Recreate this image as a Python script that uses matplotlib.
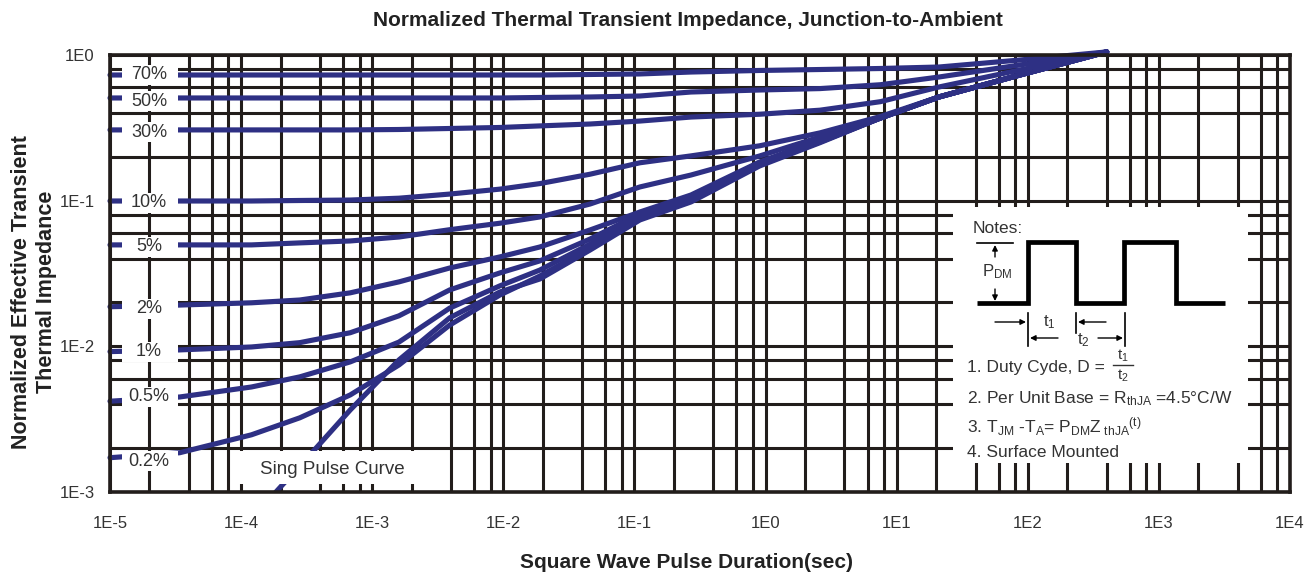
import matplotlib
matplotlib.use("Agg")
import matplotlib.pyplot as plt
from matplotlib.transforms import blended_transform_factory
from matplotlib.patches import Rectangle, FancyArrowPatch
from matplotlib.ticker import FixedLocator, NullFormatter

plt.rcParams['font.family'] = ['Liberation Sans', 'DejaVu Sans']
plt.rcParams['mathtext.fontset'] = 'custom'
plt.rcParams['mathtext.rm'] = 'Liberation Sans'
plt.rcParams['mathtext.it'] = 'Liberation Sans:italic'
plt.rcParams['mathtext.bf'] = 'Liberation Sans:bold'

# ---------------- data ----------------
pulse_duration = [1e-5, 3.4e-5, 1.2e-4, 2.8e-4, 6.8e-4, 1.6e-3, 3.9e-3, 9.4e-3,
                  1.9e-2, 4.6e-2, 0.11, 0.27, 0.9, 2.6, 7.5, 21, 87, 400]
z_70 = [0.729, 0.729, 0.729, 0.729, 0.729, 0.729, 0.729, 0.729, 0.729,
        0.735, 0.741, 0.764, 0.783, 0.795, 0.808, 0.827, 0.924, 1.05]
z_50 = [0.507, 0.507, 0.507, 0.507, 0.507, 0.507, 0.507, 0.507, 0.511,
        0.515, 0.523, 0.557, 0.575, 0.588, 0.625, 0.706, 0.854, 1.05]
z_30 = [0.306, 0.306, 0.306, 0.306, 0.306, 0.308, 0.313, 0.318, 0.326,
        0.336, 0.352, 0.375, 0.392, 0.418, 0.478, 0.603, 0.789, 1.05]
z_10 = [0.0995, 0.0995, 0.0995, 0.1003, 0.101, 0.104, 0.111, 0.120, 0.131,
        0.152, 0.182, 0.203, 0.238, 0.292, 0.378, 0.515, 0.729, 1.05]
z_5 = [0.0497, 0.0497, 0.0497, 0.0513, 0.0529, 0.0563, 0.0632, 0.0700, 0.0773,
       0.0949, 0.1242, 0.150, 0.2026, 0.2736, 0.369, 0.515, 0.729, 1.05]
z_2 = [0.0187, 0.0192, 0.0199, 0.0208, 0.0233, 0.0277, 0.0345, 0.0411, 0.0481,
       0.0630, 0.0836, 0.1094, 0.1843, 0.261, 0.369, 0.515, 0.729, 1.05]
z_1 = [0.0092, 0.00945, 0.0099, 0.0106, 0.0124, 0.0162, 0.0244, 0.0319, 0.0386,
       0.0546, 0.0810, 0.1060, 0.1814, 0.257, 0.369, 0.515, 0.729, 1.05]
z_05 = [0.0042, 0.00449, 0.00526, 0.00617, 0.00782, 0.0107, 0.0183, 0.0260, 0.0334,
        0.0504, 0.0785, 0.1043, 0.1786, 0.253, 0.369, 0.515, 0.729, 1.05]
z_02 = [0.00172, 0.00186, 0.00247, 0.00323, 0.00464, 0.00745, 0.0140, 0.0225, 0.0304,
        0.0474, 0.0761, 0.1011, 0.1758, 0.253, 0.369, 0.515, 0.729, 1.05]
single_duration = [1.75e-4, 3.8e-4, 6.8e-4, 1.6e-3, 3.9e-3, 9.4e-3, 1.9e-2, 4.6e-2,
                   0.11, 0.27, 0.9, 2.6, 7.5, 21, 87, 400]
z_single = [0.00095, 0.00204, 0.00366, 0.00807, 0.0157, 0.0236, 0.0290, 0.0459,
            0.0737, 0.098, 0.173, 0.250, 0.369, 0.515, 0.729, 1.05]

duty_labels = ["70%", "50%", "30%", "10%", "5%", "2%", "1%", "0.5%", "0.2%"]
duty_curves = [z_70, z_50, z_30, z_10, z_5, z_2, z_1, z_05, z_02]
label_levels = [0.73, 0.483, 0.296, 0.0964, 0.0481, 0.0181, 0.00916, 0.00449, 0.00163]

x_decades = [1e-5, 1e-4, 1e-3, 1e-2, 1e-1, 1e0, 1e1, 1e2, 1e3, 1e4]
x_tick_labels = ["1E-5", "1E-4", "1E-3", "1E-2", "1E-1", "1E0", "1E1", "1E2", "1E3", "1E4"]
y_decades = [1e-3, 1e-2, 1e-1, 1e0]
y_tick_labels = ["1E-3", "1E-2", "1E-1", "1E0"]
grid_subs = [2, 4, 6, 8]

title = "Normalized Thermal Transient Impedance, Junction-to-Ambient"
x_title = "Square Wave Pulse Duration(sec)"
y_title = "Normalized Effective Transient\nThermal Impedance"

# ---------------- figure ----------------
W, H = 1308, 574
fig = plt.figure(figsize=(W / 100, H / 100), dpi=100)
fig.patch.set_facecolor("white")

def fx(px):
    return px / W

def fy(py):
    return 1 - py / H

ax_l, ax_r, ax_t, ax_b = 110, 1290, 55, 492
ax = fig.add_axes([fx(ax_l), fy(ax_b), fx(ax_r - ax_l), (ax_b - ax_t) / H])
ax.set_xscale("log")
ax.set_yscale("log")
ax.set_xlim(x_decades[0], x_decades[-1])
ax.set_ylim(y_decades[0], y_decades[-1])

GRID = "#221d1b"
CURVE = "#2e3084"
TXT = "#333333"

ax.set_xticks(x_decades)
ax.set_xticklabels(x_tick_labels)
ax.set_yticks(y_decades)
ax.set_yticklabels(y_tick_labels)
x_minor = [s * d for d in x_decades[:-1] for s in grid_subs]
y_minor = [s * d for d in y_decades[:-1] for s in grid_subs]
ax.xaxis.set_minor_locator(FixedLocator(x_minor))
ax.yaxis.set_minor_locator(FixedLocator(y_minor))
ax.xaxis.set_minor_formatter(NullFormatter())
ax.yaxis.set_minor_formatter(NullFormatter())
ax.tick_params(which="both", length=0)
ax.tick_params(axis="x", pad=17, labelsize=12, labelcolor=TXT)
ax.tick_params(axis="y", pad=11, labelsize=12, labelcolor=TXT)
ax.grid(True, which="both", color=GRID, lw=2.2, zorder=0)
ax.set_axisbelow(True)
for s in ax.spines.values():
    s.set_color(GRID)
    s.set_linewidth(2.6)
    s.set_zorder(10)

# curves
for zc in duty_curves:
    ax.plot(pulse_duration, zc, color=CURVE, lw=3.7, solid_capstyle="round",
            solid_joinstyle="round", zorder=3, clip_on=False)
ax.plot(single_duration, z_single, color=CURVE, lw=3.7, solid_capstyle="round",
        solid_joinstyle="round", zorder=3)

# label boxes
bt = blended_transform_factory(ax.transAxes, ax.transData)
box_x0 = (122 - ax_l) / (ax_r - ax_l)
box_w = (178 - 122) / (ax_r - ax_l)
lab_x = (149 - ax_l) / (ax_r - ax_l)
f = 1.17
for lab, lv in zip(duty_labels, label_levels):
    ax.add_patch(Rectangle((box_x0, lv / f), box_w, lv * f - lv / f, transform=bt,
                           facecolor="white", edgecolor="none", zorder=5))
    ax.text(lab_x, lv, lab, transform=bt, ha="center", va="center",
            fontsize=13, color=TXT, zorder=6)

# "Sing Pulse Curve" box
sax = fig.add_axes([fx(233), fy(484), fx(432 - 233), (484 - 451) / H])
sax.set_facecolor("white")
sax.set_xticks([]); sax.set_yticks([])
for s in sax.spines.values():
    s.set_visible(False)
sax.text(0.5, 0.45, "Sing Pulse Curve", ha="center", va="center",
         fontsize=13.5, color=TXT, transform=sax.transAxes)

# Notes box (pixel coordinates inside)
nx0, nx1, ny0, ny1 = 953, 1248, 207, 463
nax = fig.add_axes([fx(nx0), fy(ny1), fx(nx1 - nx0), (ny1 - ny0) / H])
nax.set_facecolor("white")
nax.set_xticks([]); nax.set_yticks([])
for s in nax.spines.values():
    s.set_visible(False)
nax.set_xlim(nx0, nx1)
nax.set_ylim(ny1, ny0)

wave_x = [977, 1028, 1028, 1076, 1076, 1124, 1124, 1176, 1176, 1225]
wave_y = [303, 303, 242, 242, 303, 303, 242, 242, 303, 303]
nax.plot(wave_x, wave_y, color="black", lw=3.4, solid_joinstyle="miter",
         solid_capstyle="butt")
nax.plot([977, 1013], [243, 243], color="black", lw=1.2)

def arrow(p0, p1):
    nax.add_patch(FancyArrowPatch(p0, p1, arrowstyle="-|>", mutation_scale=8,
                                  color="black", lw=1.0, shrinkA=0, shrinkB=0))

arrow((995, 257), (995, 245))
arrow((995, 289), (995, 301))
nax.text(997, 272, r"P$_{\mathrm{DM}}$", ha="center", va="center", fontsize=12, color=TXT)

nax.plot([1028, 1028], [313, 346], color="black", lw=1.2)
nax.plot([1076, 1076], [313, 333], color="black", lw=1.2)
nax.plot([1125, 1125], [313, 346], color="black", lw=1.2)
arrow((995, 322), (1026, 322))
arrow((1106, 322), (1078, 322))
arrow((1058, 338), (1030, 338))
arrow((1098, 338), (1123, 338))
nax.text(1049, 322, r"t$_{\mathrm{1}}$", ha="center", va="center", fontsize=12, color=TXT)
nax.text(1083, 340, r"t$_{\mathrm{2}}$", ha="center", va="center", fontsize=12, color=TXT)

nax.text(973, 233, "Notes:", ha="left", va="baseline", fontsize=12.5, color=TXT)
nax.text(967, 372, "1. Duty Cyde, D =", ha="left", va="baseline", fontsize=12.5, color=TXT)
nax.plot([1113, 1133], [365, 365], color=TXT, lw=1.0)
nax.text(1123, 356, r"t$_{\mathrm{1}}$", ha="center", va="center", fontsize=11, color=TXT)
nax.text(1123, 376, r"t$_{\mathrm{2}}$", ha="center", va="center", fontsize=11, color=TXT)
nax.text(967, 403, r"2. Per Unit Base = R$_{\mathrm{thJA}}$ =4.5°C/W", ha="left",
         va="baseline", fontsize=12.5, color=TXT)
nax.text(967, 433, r"3. T$_{\mathrm{JM}}$ -T$_{\mathrm{A}}$= P$_{\mathrm{DM}}$Z$_{\mathrm{\ thJA}}$$^{\mathrm{(t)}}$",
         ha="left", va="baseline", fontsize=12.5, color=TXT)
nax.text(967, 457, "4. Surface Mounted", ha="left", va="baseline", fontsize=12.5, color=TXT)

# titles
fig.text(fx(688), fy(20), title, ha="center", va="center", fontsize=15,
         fontweight="bold", color="#222222")
fig.text(fx(686), fy(563), x_title, ha="center", va="center", fontsize=15,
         fontweight="bold", color="#222222")
fig.text(fx(34), fy(292), y_title, ha="center", va="center", rotation=90,
         multialignment="center", fontsize=15.5, fontweight="bold", color="#222222",
         linespacing=1.3)

fig.savefig("out.png", dpi=100, facecolor="white")
